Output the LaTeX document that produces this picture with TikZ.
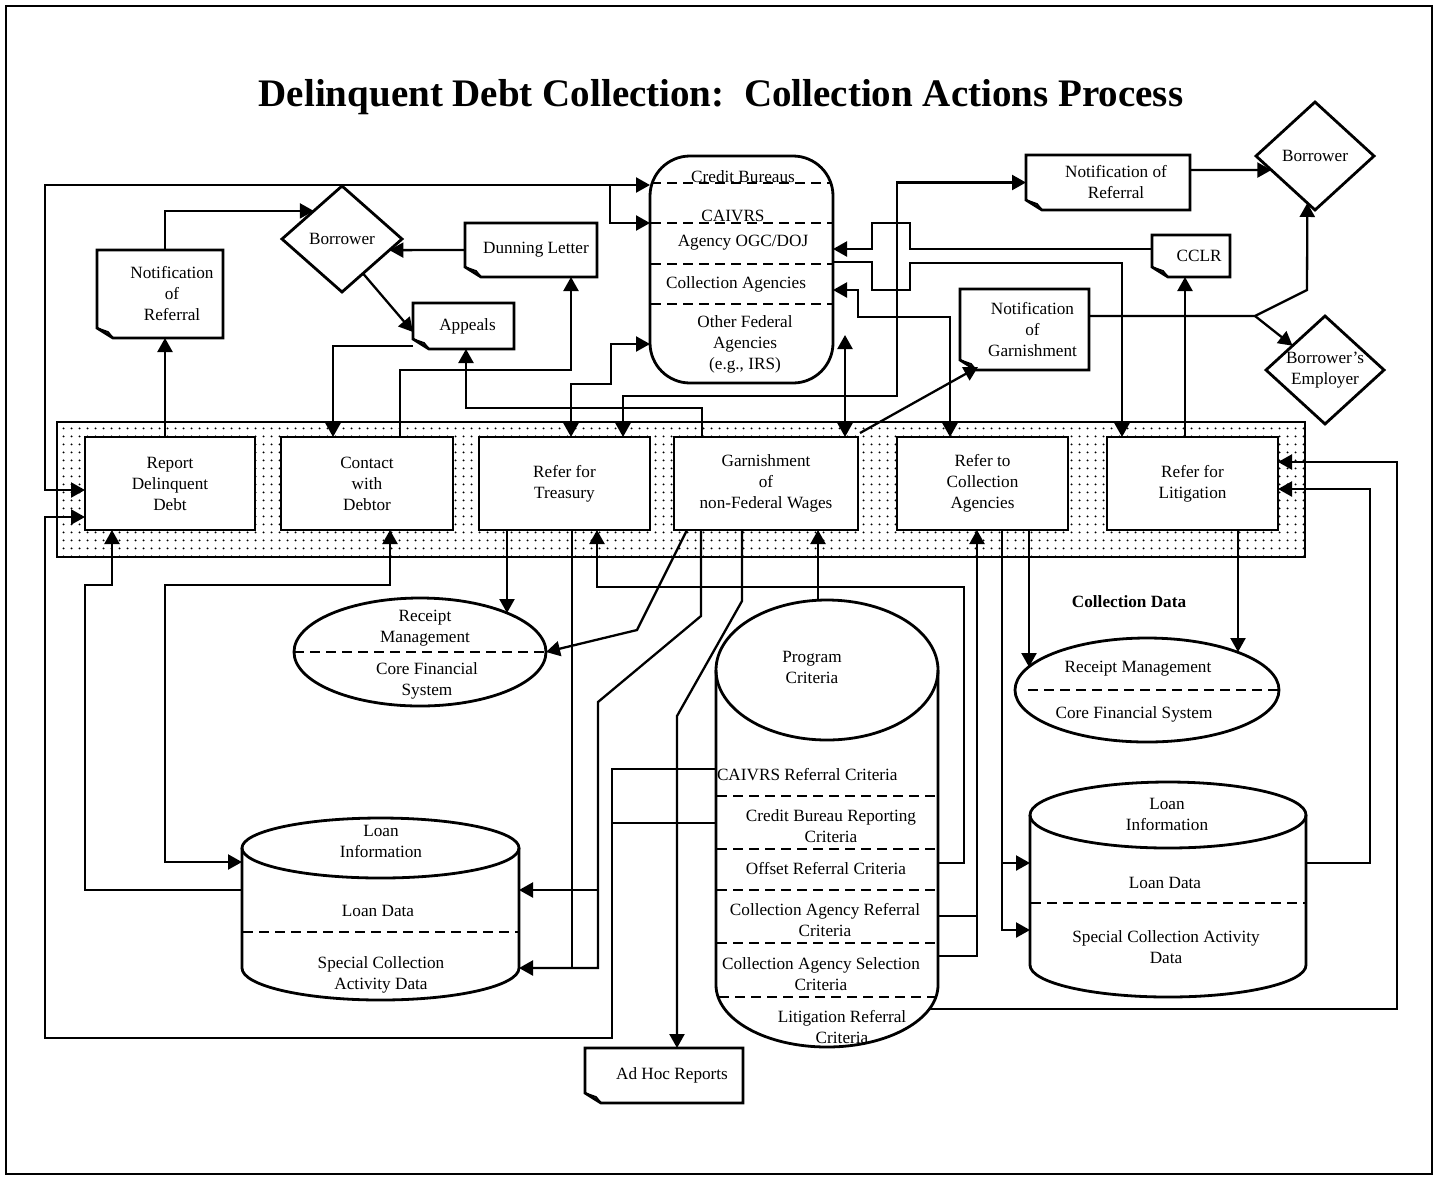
\documentclass[tikz,border=0pt]{standalone}
\usepackage{fontspec}
\setmainfont{Liberation Serif}
\usetikzlibrary{shapes.geometric,arrows.meta,patterns.meta,calc}
\begin{document}
\begin{tikzpicture}[x=0.5pt,y=-0.5pt,
  every node/.append style={outer sep=0pt},
  font=\fontsize{8.6}{10.5}\selectfont,
  lw/.style={line width=1.4pt},
  pbox/.style={draw,lw,fill=white,minimum height=46.5pt,align=center,inner sep=1pt},
  docn/.style={align=center,inner sep=0pt},
  dia/.style={diamond,draw,lw,fill=white,align=center,inner sep=0pt,aspect=1.1},
  txt/.style={align=center,inner sep=0pt},
  conn/.style={line width=1.15pt,line join=miter},
  myarrow/.tip={Triangle[length=7pt,width=7.5pt]},
  arr/.style={conn,-myarrow},
  barr/.style={conn,myarrow-myarrow},
  dsh/.style={line width=1.1pt,dash pattern=on 5pt off 3pt}]
\useasboundingbox (0,0) rectangle (1438,1179);
\fill[white] (0,0) rectangle (1438,1179);
\draw[line width=1pt] (6,6) rectangle (1432,1174);

% title
\node[font=\bfseries\fontsize{19.5}{23}\selectfont] (title) at (721,97) {Delinquent Debt Collection:\ \ Collection Actions Process};

% process strip
\node[draw,lw,pattern={Dots[distance=4pt,radius=0.6pt]},minimum width=624pt,minimum height=67.5pt,inner sep=0pt] (strip) at (681,489.5) {};
\node[pbox,minimum width=85pt] (rdd) at (170,483.5) {Report\\Delinquent\\Debt};
\node[pbox,minimum width=86pt] (cwd) at (367,483.5) {Contact\\with\\Debtor};
\node[pbox,minimum width=85.5pt] (rft) at (564.5,483.5) {Refer for\\Treasury};
\node[pbox,minimum width=92pt] (gar) at (766,483.5) {Garnishment\\of\\non-Federal Wages};
\node[pbox,minimum width=85.5pt] (rca) at (982.5,483.5) {Refer to\\Collection\\Agencies};
\node[pbox,minimum width=85.5pt] (rfl) at (1192.5,483.5) {Refer for\\Litigation};

% documents
\node[docn,minimum width=63pt,minimum height=44pt] (nref1) at (160,294) {\hspace*{12pt}Notification\\\hspace*{12pt}of\\\hspace*{12pt}Referral};
\node[docn,minimum width=66pt,minimum height=27pt] (dun) at (531,250) {\hspace*{5pt}Dunning Letter};
\node[docn,minimum width=50.5pt,minimum height=23pt] (app) at (463.5,326) {\hspace*{4pt}Appeals};
\node[docn,minimum width=82pt,minimum height=27.5pt] (nref2) at (1108,182.5) {\hspace*{8pt}Notification of\\\hspace*{8pt}Referral};
\node[docn,minimum width=39pt,minimum height=21pt] (cclr) at (1191,256) {\hspace*{8pt}CCLR};
\node[docn,minimum width=64.5pt,minimum height=40.5pt] (ngarn) at (1024.5,329.5) {\hspace*{8pt}Notification\\\hspace*{8pt}of\\\hspace*{8pt}Garnishment};
\node[docn,minimum width=79pt,minimum height=27.5pt] (adhoc) at (664,1075.5) {\hspace*{8pt}Ad Hoc Reports};
\foreach \n in {nref1,dun,app,nref2,cclr,ngarn,adhoc}{
  \draw[lw,line join=miter] (\n.north west) -- (\n.north east) -- (\n.south east) -- ($(\n.south west)+(16,0)$) -- ($(\n.south west)+(0,-10)$) -- cycle;
  \draw[line width=0.9pt] ($(\n.south west)+(0,-10)$) -- ($(\n.south west)+(11,-6)$) -- ($(\n.south west)+(16,0)$);
}

% diamonds
\node[dia,minimum width=60pt,minimum height=53pt] (bor1) at (342,239) {Borrower};
\node[dia,minimum width=59pt,minimum height=54pt] (bor2) at (1315,156) {Borrower};
\node[dia,minimum width=59pt,minimum height=54pt] (emp) at (1325,370) {Borrower’s\\Employer};

% external agencies group
\node[draw,lw,rounded corners=20pt,minimum width=91.5pt,minimum height=113.5pt,inner sep=0pt] (grp) at (741.5,269.5) {};
\foreach \d in {27,67,108,148}{
  \draw[dsh] ($(grp.north west)+(1,\d)$) -- ($(grp.north east)+(-1,\d)$);
}
\node[txt] (gcb) at (743,177) {Credit Bureaus};
\node[txt] (gcai) at (733,216) {CAIVRS};
\node[txt] (gogc) at (743,243) {Agency OGC/DOJ};
\node[txt] (gcol) at (736,284) {Collection Agencies};
\node[txt] (gofa) at (745,344) {Other Federal\\Agencies\\(e.g., IRS)};

% receipt management ellipses
\node[ellipse,draw,lw,minimum width=126pt,minimum height=54pt,inner sep=0pt] (rm1) at (420,652) {};
\draw[dsh] (rm1.west) -- (rm1.east);
\node[txt] (rm1a) at (425,628) {Receipt\\Management};
\node[txt] (rm1b) at (427,681) {Core Financial\\System};
\node[ellipse,draw,lw,minimum width=132pt,minimum height=52pt,inner sep=0pt] (rm2) at (1147,690) {};
\draw[dsh] ($(rm2.west)+(13,0)$) -- (rm2.east);
\node[txt] (rm2a) at (1138,669) {Receipt Management};
\node[txt] (rm2b) at (1134,714) {Core Financial System};
\node[txt,font=\bfseries\fontsize{8.6}{10.5}\selectfont] (cdata) at (1129,602) {Collection Data};

% program criteria cylinder
\draw[lw] (716,670) -- (716,985) arc[start angle=180,end angle=360,x radius=55.5pt,y radius=31pt] -- (938,670);
\draw[lw] (827,670) ellipse [x radius=55.5pt,y radius=35pt];
\node[minimum width=111pt,minimum height=188.5pt,inner sep=0pt] (prog) at (827,858.5) {};
\foreach \y in {796,849,890,943}{ \draw[dsh] (717,\y) -- (937,\y); }
\draw[dsh] (719,997) -- (935,997);
\node[txt] (progt) at (812,667) {Program\\Criteria};
\node[txt,anchor=west] (pc1) at (717,775) {CAIVRS Referral Criteria};
\node[txt] (pc2) at (831,826) {Credit Bureau Reporting\\Criteria};
\node[txt] (pc3) at (826,869) {Offset Referral Criteria};
\node[txt] (pc4) at (825,920) {Collection Agency Referral\\Criteria};
\node[txt] (pc5) at (821,974) {Collection Agency Selection\\Criteria};
\node[txt] (pc6) at (842,1027) {Litigation Referral\\Criteria};

% loan information cylinders
\draw[lw] (242,848) -- (242,968) arc[start angle=180,end angle=360,x radius=69.25pt,y radius=16pt] -- (519,848);
\draw[lw] (380.5,848) ellipse [x radius=69.25pt,y radius=15pt];
\node[minimum width=138.5pt,minimum height=76pt,inner sep=0pt] (loan1) at (380.5,924) {};
\draw[dsh] (243,932) -- (518,932);
\node[txt] (l1a) at (381,841) {Loan\\Information};
\node[txt] (l1b) at (378,911) {Loan Data};
\node[txt] (l1c) at (381,975) {Special Collection\\Activity Data};

\draw[lw] (1030,815) -- (1030,965) arc[start angle=180,end angle=360,x radius=69pt,y radius=16pt] -- (1306,815);
\draw[lw] (1168,815) ellipse [x radius=69pt,y radius=16.5pt];
\node[minimum width=138pt,minimum height=91pt,inner sep=0pt] (loan2) at (1168,906) {};
\draw[dsh] (1031,903) -- (1305,903);
\node[txt] (l2a) at (1167,814) {Loan\\Information};
\node[txt] (l2b) at (1165,883) {Loan Data};
\node[txt] (l2c) at (1166,947) {Special Collection Activity\\Data};

% ---------------- connectors ----------------
% C1 report <-> credit bureaus / CAIVRS
\draw[barr] ($(rdd.north west)+(0,53)$) -- (45,490) -- (45,185) -- ($(grp.north west)+(0,29)$);
\draw[arr] (610,185) -- (610,223) -- ($(grp.north west)+(0,67)$);
% C2 criteria -> report
\draw[arr] ($(prog.north west)+(0,99)$) -- (612,769) -- (612,1038) -- (45,1038) -- (45,517) -- ($(rdd.north west)+(0,80)$);
\draw[conn] ($(prog.north west)+(0,153)$) -- (612,823);
% C3, C4
\draw[arr] ($(rdd.north west)+(80,0)$) -- ($(nref1.south west)+(68,0)$);
\draw[arr] ($(nref1.north west)+(68,0)$) |- ($(bor1.west)!0.53!(bor1.north)$);
% C5 dunning -> borrower
\draw[arr] (dun.west) -- ($(bor1.east)!0.21!(bor1.south)$);
% C6 borrower -> appeals
\draw[arr] ($(bor1.south)!0.35!(bor1.east)$) -- ($(app.south west)+(0,-17)$);
% C7 appeals -> contact
\draw[arr] ($(app.south west)+(0,-3)$) -| ($(cwd.north west)+(52,0)$);
% C8 contact -> dunning
\draw[arr] ($(cwd.north west)+(119,0)$) -- ++(0,-67) -| ($(dun.south west)+(106,0)$);
% C9 garnishment -> appeals
\draw[arr] ($(gar.north west)+(28,0)$) -- ++(0,-29) -| ($(app.south west)+(53,0)$);
% C10 treasury <-> other federal agencies
\draw[barr] ($(rft.north west)+(92,0)$) -- ++(0,-53) -- (611,384) -- (611,344) -- ($(grp.north west)+(0,188)$);
% C11 treasury <-> notification of referral
\draw[barr] ($(rft.north west)+(144,0)$) |- (897,396) |- (nref2.west);
% C12 CCLR -> agency OGC/DOJ
\draw[arr] ($(cclr.north west)+(0,14)$) -- (910,249) -- (910,223) -- (872,223) -- (872,249) -- ($(grp.north east)+(0,93)$);
% C13 OGC/DOJ -> litigation
\draw[arr] ($(grp.north east)+(0,106)$) -- (872,262) -- (872,290) -- (910,290) -- (910,263) -- (1122,263) -- ($(rfl.north west)+(15,0)$);
% C14 collection agencies <-> refer to collection agencies
\draw[barr] ($(grp.north east)+(0,134)$) -- (858,290) -- (858,317) -- (950,317) -- ($(rca.north west)+(53,0)$);
% C15 garnishment <-> other federal agencies
\draw[barr] ($(gar.north west)+(171,0)$) -- ($(grp.south east)+(12,-48)$);
% C16 garnishment -> notification of garnishment
\draw[arr] ($(gar.north east)+(2,-4)$) -- ($(ngarn.south west)+(18,-3)$);
% C17 notification of garnishment -> borrower, employer
\draw[arr] ($(ngarn.north east)+(0,27)$) -- (1255,316) -- (1307,290) -- ($(bor2.south)!0.13!(bor2.west)$);
\draw[arr] (1255,316) -- ($(emp.west)!0.45!(emp.north)$);
% C18 notification of referral -> borrower
\draw[arr] ($(nref2.north east)+(0,15)$) -- ($(bor2.west)!0.26!(bor2.south)$);
% C19 litigation -> CCLR
\draw[arr] ($(rfl.north west)+(78,0)$) -- ($(cclr.south west)+(33,0)$);
% C20 litigation criteria -> litigation
\draw[arr] ($(prog.north east)+(-9,339)$) -- (1397,1009) -- (1397,462) -- ($(rfl.north east)+(0,25)$);
% C21 loan info -> litigation
\draw[arr] ($(loan2.north east)+(0,48)$) -- (1370,863) -- (1370,489) -- ($(rfl.north east)+(0,52)$);
% C22 loan info -> report
\draw[arr] ($(loan1.north west)+(0,42)$) -- (85,890) -- (85,585) -- (112,585) -- ($(rdd.south west)+(27,0)$);
% C23 contact <-> loan info
\draw[barr] ($(loan1.north west)+(0,14)$) -- (165,862) -- (165,585) -- (390,585) -- ($(cwd.south west)+(109,0)$);
% C24 treasury -> receipt management
\draw[arr] ($(rft.south west)+(28,0)$) -- ($(rm1.center)+(87,-39)$);
% C25 treasury -> loan info
\draw[conn] ($(rft.south west)+(93,0)$) -- (572,968);
% C26 garnishment -> loan info
\draw[arr] ($(gar.south west)+(27,0)$) -- (701,616) -- (598,702) -- (598,968) -- ($(loan1.north east)+(0,120)$);
\draw[arr] (598,890) -- ($(loan1.north east)+(0,42)$);
% C27 garnishment -> receipt management
\draw[arr] ($(gar.south west)+(13,0)$) -- (637,630) -- (rm1.east);
% C28 garnishment -> ad hoc reports
\draw[arr] ($(gar.south west)+(68,0)$) -- (742,601) -- (677,716) -- ($(adhoc.north west)+(92,0)$);
% C29 program criteria -> garnishment
\draw[arr] ($(prog.north)+(-9,-70)$) -- ($(gar.south west)+(144,0)$);
% C30 offset criteria -> treasury
\draw[arr] ($(prog.north east)+(0,193)$) -- (964,863) -- (964,587) -- (597,587) -- ($(rft.south west)+(118,0)$);
% C31 collection agency criteria -> refer to collection agencies
\draw[arr] ($(prog.north east)+(0,246)$) -- (977,916) -- ($(rca.south west)+(80,0)$);
\draw[conn] ($(prog.north east)+(0,286)$) -- (977,956) -- (977,916);
% C32 refer to collection agencies -> receipt management
\draw[arr] ($(rca.south west)+(132,0)$) -- ($(rm2.center)+(-118,-23)$);
% C33 refer to collection agencies -> loan info
\draw[arr] ($(rca.south west)+(105,0)$) -- (1002,930) -- ($(loan2.north west)+(0,115)$);
\draw[arr] (1002,863) -- ($(loan2.north west)+(0,48)$);
% C34 litigation -> receipt management
\draw[arr] ($(rfl.south west)+(131,0)$) -- ($(rm2.center)+(91,-38)$);
\end{tikzpicture}
\end{document}
